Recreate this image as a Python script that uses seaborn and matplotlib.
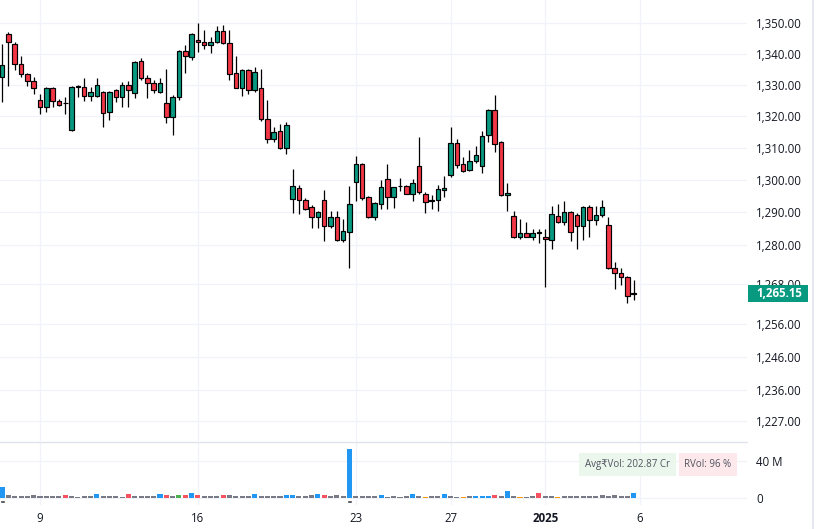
import numpy as np
import pandas as pd
import matplotlib
matplotlib.use("Agg")
import matplotlib.pyplot as plt
import seaborn as sns
from matplotlib.patches import Rectangle
from matplotlib.lines import Line2D
from matplotlib.ticker import NullLocator, NullFormatter

sns.set_theme(style="white")
plt.rcParams['font.family'] = ['Open Sans', 'DejaVu Sans', 'Noto Sans']

# ---------------- data (75-minute bars) ----------------
session_days = ['2024-12-05', '2024-12-06', '2024-12-09', '2024-12-10', '2024-12-11',
                '2024-12-12', '2024-12-13', '2024-12-16', '2024-12-17', '2024-12-18',
                '2024-12-19', '2024-12-20', '2024-12-23', '2024-12-24', '2024-12-26',
                '2024-12-27', '2024-12-30', '2024-12-31', '2025-01-01', '2025-01-02',
                '2025-01-03', '2025-01-06']
bars_in_day = [1] + [5] * 20 + [0]

label_days = ['2024-12-09', '2024-12-16', '2024-12-23', '2024-12-27', '2025-01-01', '2025-01-06']
label_text = ['9', '16', '23', '27', '2025', '6']

opens = [1332.5, 1346.2, 1343.1, 1336.6, 1333.4, 1331.1, 1325.2, 1322.9, 1329.1, 1324.8,
         1324.1, 1315.6, 1329.3, 1329.4, 1326.5, 1326.6, 1327.9, 1321.3, 1328.3, 1326.0,
         1330.0, 1327.5, 1337.5, 1332.2, 1330.7, 1327.7, 1324.4, 1319.8, 1326.3, 1340.9,
         1338.9, 1344.5, 1343.9, 1342.8, 1343.7, 1347.4, 1343.4, 1333.8, 1329.1, 1334.7,
         1328.3, 1329.1, 1319.3, 1313.0, 1315.4, 1310.1, 1294.0, 1297.4, 1293.7, 1291.6,
         1288.6, 1293.7, 1285.6, 1288.4, 1281.3, 1283.8, 1299.3, 1305.0, 1294.6, 1288.4,
         1292.5, 1300.3, 1294.6, 1298.0, 1298.0, 1295.6, 1304.3, 1295.8, 1293.6, 1293.7,
         1296.8, 1301.6, 1311.7, 1305.0, 1303.2, 1305.8, 1304.3, 1314.1, 1322.0, 1311.8,
         1295.4, 1288.7, 1282.5, 1283.7, 1282.5, 1283.7, 1282.2, 1281.5, 1288.7, 1286.9,
         1290.0, 1289.0, 1285.6, 1291.5, 1287.5, 1289.0, 1286.1, 1272.7, 1271.3, 1270.1,
         1265.0]
highs = [1343.1, 1346.9, 1343.8, 1339.1, 1333.9, 1332.5, 1327.0, 1329.4, 1329.4, 1325.5,
         1326.0, 1329.6, 1330.1, 1332.2, 1329.4, 1332.2, 1328.1, 1328.1, 1328.8, 1330.8,
         1331.4, 1337.8, 1338.7, 1333.2, 1331.7, 1332.3, 1335.1, 1326.8, 1341.1, 1342.9,
         1346.7, 1350.0, 1347.7, 1345.3, 1348.8, 1349.3, 1347.7, 1339.1, 1335.0, 1335.0,
         1335.7, 1335.1, 1325.2, 1316.7, 1317.7, 1318.2, 1303.4, 1298.5, 1294.4, 1292.1,
         1290.3, 1297.0, 1290.3, 1290.3, 1287.9, 1298.0, 1307.4, 1305.3, 1294.9, 1293.2,
         1300.1, 1305.1, 1297.9, 1300.6, 1298.5, 1300.3, 1313.4, 1296.2, 1295.2, 1298.5,
         1301.1, 1316.5, 1313.0, 1307.1, 1309.4, 1310.5, 1315.3, 1322.4, 1326.7, 1312.2,
         1299.1, 1290.3, 1287.9, 1287.0, 1284.8, 1284.9, 1284.9, 1291.8, 1292.5, 1293.6,
         1290.3, 1289.8, 1291.8, 1292.1, 1291.8, 1293.7, 1288.4, 1274.8, 1272.7, 1270.3,
         1269.3]
lows = [1324.6, 1329.6, 1334.8, 1332.5, 1329.8, 1327.2, 1320.6, 1321.3, 1323.1, 1323.2,
        1320.8, 1315.4, 1326.2, 1324.9, 1324.9, 1326.3, 1316.7, 1319.0, 1324.6, 1323.1,
        1323.1, 1325.7, 1331.7, 1325.9, 1327.5, 1327.5, 1317.8, 1314.1, 1325.2, 1333.9,
        1337.9, 1340.5, 1341.4, 1340.2, 1343.5, 1343.2, 1331.7, 1329.0, 1326.5, 1327.1,
        1327.7, 1318.4, 1311.7, 1311.8, 1309.7, 1308.2, 1289.8, 1289.5, 1290.8, 1285.1,
        1285.1, 1281.1, 1285.1, 1281.1, 1280.7, 1272.9, 1293.6, 1293.9, 1288.2, 1287.7,
        1291.1, 1291.1, 1291.3, 1296.7, 1295.5, 1293.6, 1295.7, 1289.8, 1291.1, 1290.5,
        1294.8, 1300.8, 1303.7, 1302.5, 1302.7, 1305.3, 1302.2, 1311.8, 1308.7, 1294.9,
        1290.3, 1282.0, 1281.8, 1282.2, 1281.5, 1280.4, 1267.2, 1278.7, 1286.7, 1286.1,
        1281.1, 1278.7, 1281.5, 1282.2, 1286.1, 1288.4, 1272.5, 1266.5, 1267.7, 1262.1,
        1263.1]
closes = [1336.3, 1343.7, 1336.6, 1333.5, 1331.3, 1329.1, 1322.9, 1329.1, 1324.8, 1323.7,
          1324.2, 1329.4, 1329.8, 1326.5, 1327.9, 1330.0, 1321.0, 1327.9, 1326.0, 1330.0,
          1328.3, 1337.2, 1332.2, 1330.7, 1328.3, 1330.7, 1319.8, 1326.3, 1340.9, 1339.1,
          1346.2, 1343.9, 1342.8, 1343.7, 1347.4, 1343.4, 1333.4, 1329.1, 1334.7, 1328.3,
          1334.1, 1319.3, 1313.0, 1315.1, 1310.1, 1317.3, 1298.0, 1293.7, 1291.1, 1288.4,
          1290.0, 1285.6, 1288.4, 1281.5, 1284.1, 1292.5, 1305.0, 1294.4, 1288.4, 1292.9,
          1297.7, 1294.6, 1297.7, 1298.1, 1295.6, 1299.0, 1296.2, 1293.1, 1293.7, 1297.2,
          1297.5, 1311.5, 1304.8, 1302.9, 1305.8, 1307.7, 1313.9, 1322.0, 1311.3, 1295.2,
          1296.1, 1282.2, 1283.7, 1282.5, 1283.7, 1283.8, 1281.7, 1289.4, 1286.9, 1290.0,
          1283.8, 1285.6, 1291.5, 1287.5, 1289.0, 1291.5, 1272.9, 1271.3, 1270.1, 1264.4,
          1265.15]

volumes_m = [11.5, 2.9, 1.8, 1.8, 1.8, 2.9, 1.8, 1.8, 1.8, 1.8,
             2.9, 1.8, 1.0, 1.8, 1.8, 3.9, 1.8, 1.8, 1.8, 0.7,
             3.9, 1.8, 1.8, 1.8, 1.8, 3.9, 2.9, 1.8, 2.9, 2.9,
             5.0, 2.9, 1.8, 1.8, 1.8, 2.9, 2.9, 1.8, 1.8, 1.8,
             3.9, 1.8, 1.8, 1.8, 1.8, 2.9, 2.9, 1.8, 1.8, 2.9,
             3.9, 2.9, 1.8, 2.9, 1.8, 52.4, 1.8, 1.8, 1.8, 1.8,
             2.9, 0.7, 1.8, 0.7, 1.8, 3.9, 1.8, 0.7, 1.8, 1.8,
             3.9, 1.8, 0.7, 0.7, 1.8, 1.8, 1.8, 1.8, 2.9, 1.8,
             7.2, 1.8, 0.7, 0.7, 1.8, 5.0, 1.8, 1.8, 0.7, 1.8,
             1.8, 1.8, 1.8, 1.8, 1.8, 2.9, 1.8, 2.9, 1.8, 1.8,
             5.0]
vol_class = list("bnnnnnnnnn" "rnnnnbnnnn" "rnnnnbrngr" "brnnnrnnnn" "bnnnnbbnnn"
                 "brnnnbnnnn" "bnnnnbnonn" "bnnonbbbrn" "bnonnrnnon" "nnnnnnnnnn" "b")

event_idx = [0, 55]
last_price_text = '1,265.15'
avg_vol_text = 'Avg\u20b9Vol: 202.87 Cr'
rvol_text = 'RVol: 96 %'

price_ticks = [1227, 1236, 1246, 1256, 1268, 1280, 1290, 1300, 1310, 1320, 1330, 1340, 1350]
vol_ticks = [0, 40]
vol_tick_labels = ['0', '40 M']

# ---------------- styling ----------------
UP = '#089981'
DOWN = '#f23645'
GRID = '#f0f3fa'
TXT = '#131722'
vol_palette = {'n': '#787b86', 'b': '#2196f3', 'r': '#f7525f', 'g': '#4caf50', 'o': '#ff9800'}

W, H = 823, 529
fig = plt.figure(figsize=(W / 100, H / 100), dpi=100)
fig.patch.set_facecolor('white')


def px(x0, y0, x1, y1):
    return [x0 / W, 1 - y1 / H, (x1 - x0) / W, (y1 - y0) / H]


ax = fig.add_axes(px(0, 0, 747, 441))
axv = fig.add_axes(px(0, 442, 747, 505), sharex=ax)

n = len(opens)
idx = np.arange(n)
o = np.array(opens); c = np.array(closes); h = np.array(highs); l = np.array(lows)
up = c >= o
cols = np.where(up, UP, DOWN)

days = pd.to_datetime(session_days)
starts = np.cumsum([0] + bars_in_day[:-1])
day_start = dict(zip(days, starts))
tick_pos = [int(day_start[pd.Timestamp(d)]) for d in label_days]

XL = (-2.1 / 6.316, (747 - 2.1) / 6.316)

# price pane
ax.set_yscale('log')
for t in price_ticks:
    ax.axhline(t, color=GRID, lw=0.9, zorder=0)
for t in tick_pos:
    ax.axvline(t, color=GRID, lw=0.9, zorder=0)
    axv.axvline(t, color=GRID, lw=0.9, zorder=0)

ax.vlines(idx, l, h, color='black', lw=0.9, zorder=2)
ax.bar(idx, np.abs(c - o), bottom=np.minimum(o, c), width=0.72, color=cols,
       edgecolor='black', linewidth=0.85, zorder=3)

ax.set_ylim(1221.11, 1357.37)
ax.set_yticks(price_ticks)
ax.set_yticklabels([f'{t:,.2f}' for t in price_ticks])
ax.yaxis.set_minor_locator(NullLocator())
ax.yaxis.set_minor_formatter(NullFormatter())
ax.yaxis.tick_right()
ax.tick_params(axis='y', length=0, pad=6.8, labelsize=8.3, labelcolor=TXT)
ax.tick_params(axis='x', bottom=False, labelbottom=False)
for s in ax.spines.values():
    s.set_visible(False)

# volume pane
vdf = pd.DataFrame({'idx': idx, 'vol': volumes_m, 'cls': vol_class})
sns.barplot(data=vdf, x='idx', y='vol', hue='cls', palette=vol_palette, native_scale=True,
            dodge=False, width=0.8, errorbar=None, legend=False, linewidth=0,
            saturation=1, ax=axv, zorder=3)
axv.bar(event_idx, [3.5] * len(event_idx), bottom=-6.0, width=0.8, color='#363a45', zorder=3)
for t in vol_ticks:
    axv.axhline(t, color=GRID, lw=0.9, zorder=0)
axv.set_ylim(-7.85, 59.9)
axv.set_xlim(*XL)
ax.set_xlim(*XL)
axv.set_yticks(vol_ticks)
axv.set_yticklabels(vol_tick_labels)
axv.yaxis.tick_right()
axv.tick_params(axis='y', length=0, pad=6.8, labelsize=8.3, labelcolor=TXT)
axv.set_xticks(tick_pos)
axv.set_xticklabels(label_text)
axv.tick_params(axis='x', length=0, pad=5, labelsize=8.3, labelcolor=TXT, bottom=True)
for lab in axv.get_xticklabels():
    if lab.get_text() == '2025':
        lab.set_fontweight('bold')
axv.set_xlabel('')
axv.set_ylabel('')
ax.set_xlabel('')
ax.set_ylabel('')
for s in axv.spines.values():
    s.set_visible(False)

# separator and right border
fig.add_artist(Line2D([0, 747 / W], [1 - 441.5 / H] * 2, color='#e0e3eb', lw=1.0))
fig.add_artist(Line2D([813 / W] * 2, [0, 1], color='#e0e3eb', lw=1.2))

# last price label
fig.canvas.draw()
ydisp = ax.transData.transform((0, closes[-1]))[1]
yc = ydisp / H
fig.add_artist(Rectangle((748 / W, yc - 8.3 / H), 60 / W, 16.6 / H, transform=fig.transFigure,
                         facecolor=UP, edgecolor='none', zorder=5))
fig.text(756.5 / W, yc, last_price_text, color='white', fontsize=8.3, fontweight='bold',
         ha='left', va='center', zorder=6)

# info boxes
fig.add_artist(Rectangle((579 / W, 1 - 476 / H), 97 / W, 23 / H, transform=fig.transFigure,
                         facecolor='#ebf6ed', edgecolor='none', zorder=5))
fig.text(627.5 / W, 1 - 464.5 / H, avg_vol_text, color='#50535e', fontsize=7,
         ha='center', va='center', zorder=6)
fig.add_artist(Rectangle((679 / W, 1 - 476 / H), 58 / W, 23 / H, transform=fig.transFigure,
                         facecolor='#fde9ec', edgecolor='none', zorder=5))
fig.text(708 / W, 1 - 464.5 / H, rvol_text, color='#50535e', fontsize=7,
         ha='center', va='center', zorder=6)

fig.savefig('out.png', dpi=100)
